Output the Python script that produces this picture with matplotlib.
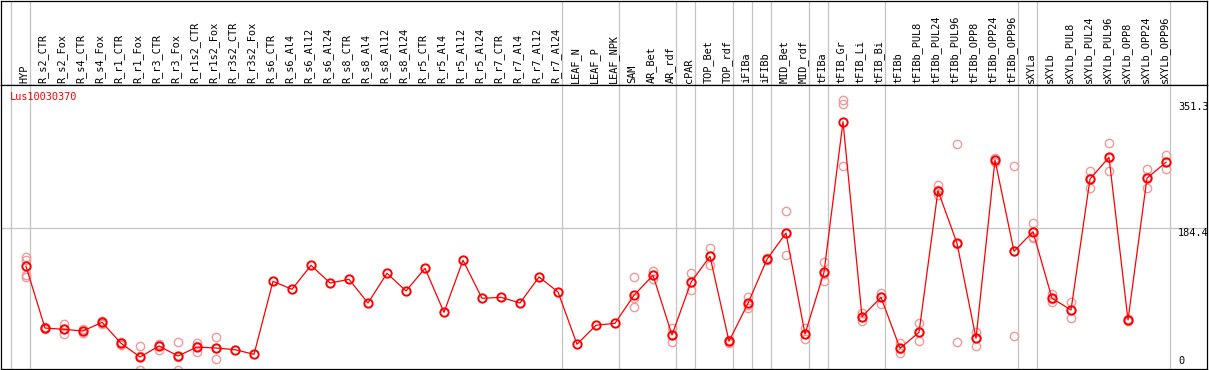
import matplotlib
matplotlib.use("Agg")
import matplotlib.pyplot as plt

# categories along the x axis
samples = ["HYP", "R_s2_CTR", "R_s2_Fox", "R_s4_CTR", "R_s4_Fox", "R_r1_CTR", "R_r1_Fox",
           "R_r3_CTR", "R_r3_Fox", "R_r1s2_CTR", "R_r1s2_Fox", "R_r3s2_CTR", "R_r3s2_Fox",
           "R_s6_CTR", "R_s6_Al4", "R_s6_Al12", "R_s6_Al24", "R_s8_CTR", "R_s8_Al4",
           "R_s8_Al12", "R_s8_Al24", "R_r5_CTR", "R_r5_Al4", "R_r5_Al12", "R_r5_Al24",
           "R_r7_CTR", "R_r7_Al4", "R_r7_Al12", "R_r7_Al24", "LEAF_N", "LEAF_P", "LEAF_NPK",
           "SAM", "AR_Bet", "AR_rdf", "cPAR", "TOP_Bet", "TOP_rdf", "iFIBa", "iFIBb",
           "MID_Bet", "MID_rdf", "tFIBa", "tFIB_Gr", "tFIB_Li", "tFIB_Bi", "tFIBb",
           "tFIBb_PUL8", "tFIBb_PUL24", "tFIBb_PUL96", "tFIBb_OPP8", "tFIBb_OPP24",
           "tFIBb_OPP96", "sXYLa", "sXYLb", "sXYLb_PUL8", "sXYLb_PUL24", "sXYLb_PUL96",
           "sXYLb_OPP8", "sXYLb_OPP24", "sXYLb_OPP96"]

# mean expression per sample
means = [134.1, 53.5, 51.8, 49.6, 61.0, 33.6, 15.7, 30.0, 17.0, 28.7, 27.4, 25.2, 19.2,
         114.5, 104.1, 135.4, 112.3, 117.1, 86.2, 125.0, 101.9, 131.5, 74.0, 142.0, 92.3,
         93.6, 86.2, 120.2, 100.6, 32.3, 57.1, 59.7,
         96.3, 122.4, 44.4, 113.2, 147.2, 36.2, 85.8, 143.3, 177.6, 45.7, 126.3, 323.0,
         68.3, 93.6, 27.0, 47.9, 232.9, 164.2, 40.1, 273.0, 153.7, 179.3, 92.3, 77.1,
         248.1, 276.5, 64.0, 249.4, 269.9]

# individual replicates (empty = single sample)
replicates = [
    [146.3, 142.4, 122.8, 120.2], [55.5, 52.0, 53.0], [58.8, 45.3, 52.0], [52.2, 47.0, 49.6],
    [62.7, 59.4, 60.7], [35.3, 31.3, 34.0], [30.4, -1.0, 17.0], [32.6, 24.8, 31.0],
    [34.9, -1.0, 15.7], [33.6, 22.2, 30.0], [41.8, 12.7, 27.4],
    [], [], [], [], [], [], [], [], [], [], [], [], [], [], [], [], [], [], [], [], [],
    [119.8, 81.0, 92.8], [128.0, 117.9, 122.8], [53.9, 34.9, 44.4], [125.0, 102.8, 113.0],
    [157.6, 136.2, 147.6], [37.9, 34.6, 36.6], [94.4, 79.3, 83.6], [145.0, 141.7, 143.7],
    [206.0, 148.5, 177.6], [53.2, 38.8, 45.7], [139.4, 115.3, 124.0], [351.3, 346.0, 265.0],
    [63.1, 72.7, 68.0], [98.9, 84.5, 94.0], [33.6, 20.5, 26.0], [59.7, 36.2, 48.3],
    [240.3, 227.2, 233.8], [293.9, 34.9, 163.8], [47.9, 30.4, 40.5], [275.6, 270.3, 273.0],
    [264.7, 42.7, 153.7], [191.1, 172.8, 170.7], [97.6, 87.9, 92.0], [87.1, 66.2, 77.0],
    [258.6, 236.4, 249.4], [295.2, 258.2, 276.2], [65.3, 62.7, 64.0], [261.2, 236.4, 250.7],
    [279.5, 261.0, 269.7],
]

# last sample of each group (a separator is drawn after it)
group_ends = [-1, 0, 28, 31, 34, 35, 37, 38, 39, 41, 42, 45, 52, 53, 60]

gene = "Lus10030370"
ymax_label = 351.3
ymid_label = 184.4

W, H = 1209, 370
fig = plt.figure(figsize=(W / 100, H / 100), dpi=100)

def px_box(x0, y0, x1, y1):
    return [x0 / W, 1 - y1 / H, (x1 - x0) / W, (y1 - y0) / H]

x_lo = (1 - 26) / 19
x_hi = (1207 - 26) / 19
y_top = (369 - 85) * ymax_label / 269

head = fig.add_axes(px_box(1, 0.5, 1207, 85))
ax = fig.add_axes(px_box(1, 85, 1207, 369))

mono = "DejaVu Sans Mono"
grey = "#c4c4c4"

for a in (head, ax):
    a.set_xlim(x_lo, x_hi)
    a.set_xticks([])
    a.set_yticks([])
    for s in a.spines.values():
        s.set_linewidth(0.9)
        s.set_color("black")
    for g in group_ends:
        a.axvline(g + 0.23, color=grey, lw=0.9, zorder=0)

head.set_ylim(0, 85)
for i, name in enumerate(samples):
    head.text(i - 0.1, 2.5, name, rotation=90, ha="center", va="bottom",
              family=mono, fontsize=7.4, color="black")

ax.set_ylim(0, y_top)
ax.axhline(ymid_label, color=grey, lw=0.9, zorder=0)

xs = list(range(len(samples)))
for i, reps in enumerate(replicates):
    if reps:
        ax.plot([i] * len(reps), reps, linestyle="none", marker="o", ms=6, mfc="none",
                mec="#f09a9a", mew=1.0, zorder=2)
ax.plot(xs, means, color="red", lw=0.9, marker="o", ms=6, mfc="none", mec="red",
        mew=1.4, zorder=3)

ax.text(-0.85, y_top - 16, gene, color="red", family=mono, fontsize=7.4,
        ha="left", va="center")

xl = (1178 - 26) / 19
ax.text(xl, ymax_label - 3, f"{ymax_label}", family=mono, fontsize=7.4, ha="left", va="top")
ax.text(xl, ymid_label, f"{ymid_label}", family=mono, fontsize=7.4, ha="left", va="top")
ax.text(xl, 4, "0", family=mono, fontsize=7.4, ha="left", va="bottom")

fig.savefig("out.png", dpi=100)
